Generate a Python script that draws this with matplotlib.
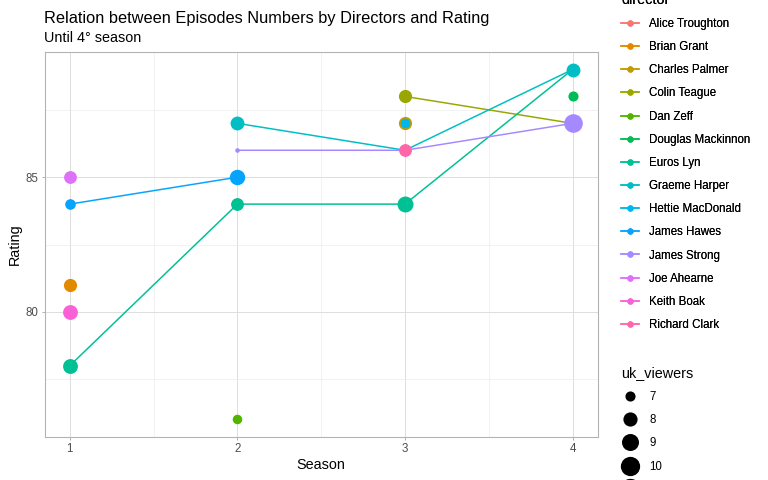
import numpy as np
import matplotlib
matplotlib.use("Agg")
import matplotlib.pyplot as plt
from matplotlib.lines import Line2D

plt.rcParams['font.family'] = ['Liberation Sans', 'DejaVu Sans']

# data (one row per director/season)
# Alice Troughton has no rating shown, only counts for the size scale
director = ["Alice Troughton", "Brian Grant", "Charles Palmer", "Colin Teague", "Colin Teague",
            "Dan Zeff", "Douglas Mackinnon", "Euros Lyn", "Euros Lyn", "Euros Lyn", "Euros Lyn",
            "Graeme Harper", "Graeme Harper", "Graeme Harper", "Hettie MacDonald",
            "James Hawes", "James Hawes", "James Strong", "James Strong", "James Strong",
            "Joe Ahearne", "Keith Boak", "Richard Clark"]
season = [3, 1, 3, 3, 4,
          2, 4, 1, 2, 3, 4,
          2, 3, 4, 3,
          1, 2, 2, 3, 4,
          1, 1, 3]
rating = [np.nan, 81, 87, 88, 87,
          76, 88, 78, 84, 84, 89,
          87, 86, 89, 87,
          84, 85, 86, 86, 87,
          85, 80, 86]
uk_viewers = [11.2, 7.7, 7.7, 7.7, 8.0,
              6.9, 7.0, 8.2, 7.6, 8.6, 7.5,
              7.9, 7.2, 7.9, 6.9,
              7.1, 8.4, 6.5, 7.3, 9.7,
              7.6, 8.2, 7.6]

directors = ["Alice Troughton", "Brian Grant", "Charles Palmer", "Colin Teague", "Dan Zeff",
             "Douglas Mackinnon", "Euros Lyn", "Graeme Harper", "Hettie MacDonald",
             "James Hawes", "James Strong", "Joe Ahearne", "Keith Boak", "Richard Clark"]
colors = ["#F8766D", "#E38900", "#C49A00", "#99A800", "#53B400", "#00BC56", "#00C094",
          "#00BFC4", "#00B6EB", "#06A4FF", "#A58AFF", "#DF70F8", "#FB61D7", "#FF66A8"]
size_breaks = [7, 8, 9, 10, 11]
x_ticks = [1, 2, 3, 4]
y_ticks = [80, 85]

df_season = np.array(season, dtype=float)
df_rating = np.array(rating, dtype=float)
df_view = np.array(uk_viewers)
vmin, vmax = df_view.min(), df_view.max()
SCALE = 1.2

def point_diam(v):
    # ggplot area scale, range 1..6 mm -> px
    size_mm = 1 + 5 * np.sqrt((np.asarray(v) - vmin) / (vmax - vmin))
    return (size_mm * 2.845 + 0.95) * SCALE

col_of = dict(zip(directors, colors))

fig = plt.figure(figsize=(768 / 72, 480 / 72), dpi=72)
ax = fig.add_axes([44.7 / 768, 43 / 480, 553 / 768, 385 / 480])

# lines per director
for d in directors:
    idx = [i for i, name in enumerate(director) if name == d and not np.isnan(rating[i])]
    if len(idx) > 1:
        order = sorted(idx, key=lambda i: season[i])
        ax.plot(df_season[order], df_rating[order], color=col_of[d], lw=1.5, zorder=2)

# points in data order
for i in range(len(director)):
    ax.scatter(df_season[i], df_rating[i], s=point_diam(df_view[i]) ** 2,
               color=col_of[director[i]], linewidths=0, zorder=3)

ax.set_xlim(0.85, 4.15)
ax.set_ylim(75.35, 89.65)
ax.set_xticks(x_ticks)
ax.set_yticks(y_ticks)
ax.set_xticks([1.5, 2.5, 3.5], minor=True)
ax.set_yticks([77.5, 82.5, 87.5], minor=True)
ax.grid(True, which="major", color="#DEDEDE", lw=1.0)
ax.grid(True, which="minor", color="#EBEBEB", lw=0.6)
ax.set_axisbelow(True)
for sp in ax.spines.values():
    sp.set_color("#B3B3B3")
    sp.set_linewidth(1.1)
ax.tick_params(which="major", length=3.3, width=1.0, color="#B3B3B3", labelsize=11.5,
               labelcolor="#4D4D4D", pad=2.6)
ax.tick_params(which="minor", length=0)
ax.set_xlabel("Season", fontsize=14.4, labelpad=3.5)
ax.set_ylabel("Rating", fontsize=14.4, labelpad=4)

fig.text(44 / 768, 1 - 22.7 / 480, "Relation between Episodes Numbers by Directors and Rating",
         fontsize=16.4, va="baseline", ha="left")
fig.text(44 / 768, 1 - 42 / 480, "Until 4° season", fontsize=14.4, va="baseline", ha="left")

# director legend
handles = [Line2D([0], [0], color=c, lw=1.5, marker="o", markersize=6.3, markeredgewidth=0)
           for c in colors]
leg1 = fig.legend(handles, directors, title="director", loc="upper left",
                  bbox_to_anchor=(621 / 768, 1 + 7.2 / 480), frameon=False, fontsize=11.5,
                  title_fontsize=14.4, labelspacing=0.97, handlelength=1.57, handletextpad=0.87,
                  alignment="left", borderaxespad=0, borderpad=0)
fig.add_artist(leg1)

# size legend
size_handles = [Line2D([0], [0], ls="none", marker="o", color="black",
                       markersize=point_diam(v), markeredgewidth=0)
                for v in size_breaks]
fig.legend(size_handles, [str(v) for v in size_breaks], title="uk_viewers", loc="upper left",
           bbox_to_anchor=(621 / 768, 1 - 366 / 480), frameon=False, fontsize=11.5,
           title_fontsize=14.4, labelspacing=0.97, handlelength=1.57, handletextpad=0.87,
           alignment="left", borderaxespad=0, borderpad=0)

fig.savefig("out.png", dpi=72)
